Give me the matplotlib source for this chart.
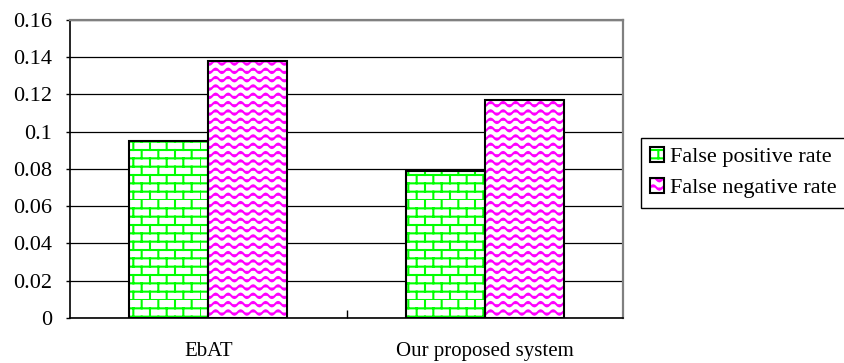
import warnings

import numpy as np
import matplotlib
matplotlib.use('Agg')
import matplotlib.hatch as mhatch
from matplotlib import pyplot as plt
from matplotlib.patches import Patch
from matplotlib.path import Path

warnings.filterwarnings('ignore')

categories = ['EbAT', 'Our proposed system']
false_positive = [0.095, 0.079]
false_negative = [0.138, 0.117]
y_ticks = [0, 0.02, 0.04, 0.06, 0.08, 0.1, 0.12, 0.14, 0.16]


class BrickHatch(mhatch.HatchPatternBase):
    rows, cols = 12, 6

    def __init__(self, hatch, density):
        n = self.rows * 2 + self.rows * self.cols * 2
        self.num_vertices = n if 'b' in hatch else 0

    def set_vertices_and_codes(self, vertices, codes):
        pts = []
        for r in range(self.rows):
            y0, y1 = r / self.rows, (r + 1) / self.rows
            pts += [(0, y0), (1, y0)]
            shift = 0.5 * (r % 2)
            for k in range(self.cols):
                x = (k + shift) / self.cols
                pts += [(x, y0), (x, y1)]
        vertices[:] = pts
        codes[0::2] = Path.MOVETO
        codes[1::2] = Path.LINETO


class WaveHatch(mhatch.HatchPatternBase):
    rows, periods, steps = 12, 8, 97

    def __init__(self, hatch, density):
        self.num_vertices = self.rows * self.steps if 'w' in hatch else 0

    def set_vertices_and_codes(self, vertices, codes):
        x = np.linspace(0, 1, self.steps)
        s = self.steps
        for r in range(self.rows):
            y = (r + 0.5) / self.rows + 0.022 * np.sin(2 * np.pi * self.periods * x)
            vertices[r * s:(r + 1) * s, 0] = x
            vertices[r * s:(r + 1) * s, 1] = y
            codes[r * s] = Path.MOVETO
            codes[r * s + 1:(r + 1) * s] = Path.LINETO


mhatch._hatch_types += [BrickHatch, WaveHatch]

plt.rcParams['font.family'] = ['Liberation Serif', 'DejaVu Serif']
plt.rcParams['font.size'] = 15
plt.rcParams['hatch.linewidth'] = 1.5

green = '#00ff00'
pink = '#ff00ff'

fig = plt.figure(figsize=(8.44, 3.63), dpi=100)
ax = fig.add_axes([0.0829, 0.124, 0.6553, 0.821])

x = np.arange(len(categories))
w = 0.286
for offs, vals, col, hat in [(-w / 2, false_positive, green, 'b'),
                             (w / 2, false_negative, pink, 'w')]:
    ax.bar(x + offs, vals, w, color='white', edgecolor=col, hatch=hat, linewidth=0, zorder=2)
    ax.bar(x + offs, vals, w, fill=False, edgecolor='black', linewidth=1.5, zorder=3)

ax.set_xlim(-0.5, 1.5)
ax.set_ylim(0, 0.16)
ax.set_yticks(y_ticks)
ax.set_yticklabels([f'{v:g}' for v in y_ticks], fontsize=16)
ax.set_xticks(x)
ax.set_xticklabels(categories)
ax.set_xticks([0.5], minor=True)
ax.tick_params(axis='x', which='major', length=0, pad=17)
ax.tick_params(axis='x', which='minor', direction='in', length=6, width=1)
ax.tick_params(axis='y', direction='out', length=3, width=1, pad=10)

ax.yaxis.grid(True, color='black', linewidth=0.9)
ax.set_axisbelow(True)
for side in ['left', 'bottom']:
    ax.spines[side].set_color('black')
    ax.spines[side].set_linewidth(1.2)
for side in ['right', 'top']:
    ax.spines[side].set_color('#808080')
    ax.spines[side].set_linewidth(1.6)

handles = [
    (Patch(facecolor='white', edgecolor=green, hatch='b', linewidth=0),
     Patch(fill=False, edgecolor='black', linewidth=1.5)),
    (Patch(facecolor='white', edgecolor=pink, hatch='w', linewidth=0),
     Patch(fill=False, edgecolor='black', linewidth=1.5)),
]
leg = ax.legend(handles, ['False positive rate', 'False negative rate'],
                loc='center left', bbox_to_anchor=(1.0325, 0.487), fontsize=16,
                frameon=True, fancybox=False, framealpha=1, edgecolor='black',
                handlelength=0.6, handleheight=0.6, handletextpad=0.3,
                borderpad=0.42, labelspacing=0.5, borderaxespad=0)
leg.get_frame().set_linewidth(1.0)

fig.savefig('out.png', dpi=100)
